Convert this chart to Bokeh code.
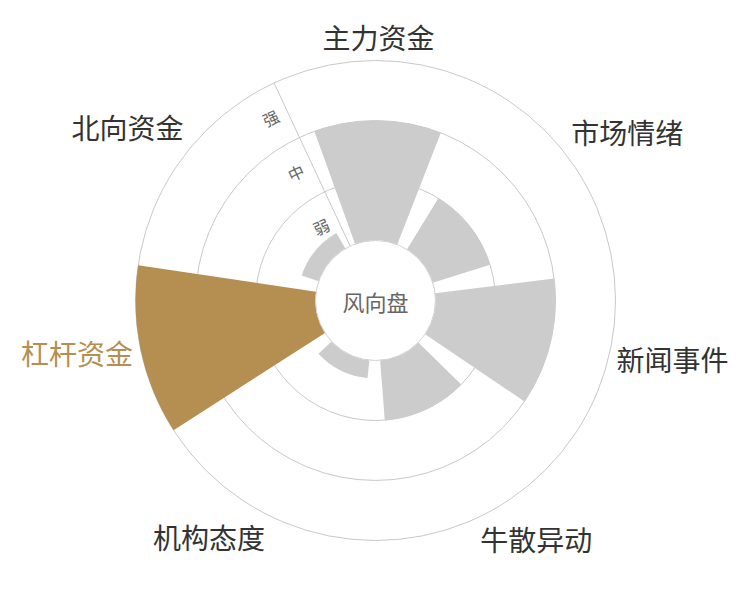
import math
from bokeh.plotting import figure
from bokeh.models import Range1d, ColumnDataSource
from bokeh.core.properties import value
from bokeh.embed import file_html
from bokeh.resources import INLINE

# ---- data ----
categories = ["主力资金", "市场情绪", "新闻事件", "牛散异动", "机构态度", "杠杆资金", "北向资金"]
values = [2.0, 1.0, 2.0, 1.0, 0.3, 3.0, 0.3]
levels = ["弱", "中", "强"]
highlight = "杠杆资金"
center_label = "风向盘"

# ---- style / geometry ----
FONT = value("Noto Sans CJK SC")
GRAY = "#cccccc"
GOLD = "#b48f51"
R_IN = 60.0
BAND = 60.0
R_OUT = R_IN + BAND * len(levels)
n = len(categories)
step = 2 * math.pi / n
start = math.radians(115)  # angle axis start angle (radius axis direction)

W, H = 734, 584
CX, CY = 375, 300
p = figure(width=W, height=H, output_backend="svg", toolbar_location=None,
           x_range=Range1d(-CX, W - CX), y_range=Range1d(-(H - CY), CY),
           x_axis_type=None, y_axis_type=None, min_border=0,
           outline_line_color=None, background_fill_color="white")
p.grid.visible = False

# split circles
p.circle(x=[0] * len(levels), y=[0] * len(levels),
         radius=[R_IN + BAND * (i + 1) for i in range(len(levels))],
         fill_color=None, line_color="#c8c8c8", line_width=1)

# radius axis line
p.segment(x0=[R_IN * math.cos(start)], y0=[R_IN * math.sin(start)],
          x1=[R_OUT * math.cos(start)], y1=[R_OUT * math.sin(start)],
          line_color="#c8c8c8", line_width=1)

# bars
centers = [start - (i + 0.5) * step for i in range(n)]
half = 0.4 * step
src = ColumnDataSource(dict(
    x=[0] * n, y=[0] * n,
    r=[R_IN + v * BAND for v in values],
    s=[c - half for c in centers], e=[c + half for c in centers],
    color=[GOLD if c == highlight else GRAY for c in categories],
))
p.annular_wedge(x="x", y="y", inner_radius=R_IN, outer_radius="r",
                start_angle="s", end_angle="e", fill_color="color",
                line_color=None, source=src)

# center hole
p.circle(x=[0], y=[0], radius=R_IN, fill_color="white",
         line_color="#d0d0d0", line_width=1)
p.text(x=[0], y=[0], text=[center_label], text_align="center",
       text_baseline="middle", text_font=FONT, text_font_size="22px",
       text_color="#666666")

# radius level labels
perp = start + math.pi / 2
for i, lab in enumerate(levels):
    r = R_IN + BAND * (i + 0.5)
    x = r * math.cos(start) + 18 * math.cos(perp)
    y = r * math.sin(start) + 18 * math.sin(perp)
    p.text(x=[x], y=[y], text=[lab], text_align="center", text_baseline="middle",
           angle=start - math.pi / 2, text_font=FONT, text_font_size="16px",
           text_color="#666666")

# category labels
RL = R_OUT + 8
for c, th in zip(categories, centers):
    x, y = RL * math.cos(th), RL * math.sin(th)
    align = "center" if abs(x) / R_OUT < 0.3 else ("left" if x > 0 else "right")
    base = "middle" if abs(y) / R_OUT < 0.3 else ("bottom" if y > 0 else "top")
    dy = {"bottom": 4, "top": -6, "middle": 0}[base]
    p.text(x=[x], y=[y], text=[c], text_align=align, text_baseline=base,
           y_offset=dy, text_font=FONT, text_font_size="28px",
           text_color=GOLD if c == highlight else "#333333")

open("out.html", "w").write(file_html(p, INLINE))
